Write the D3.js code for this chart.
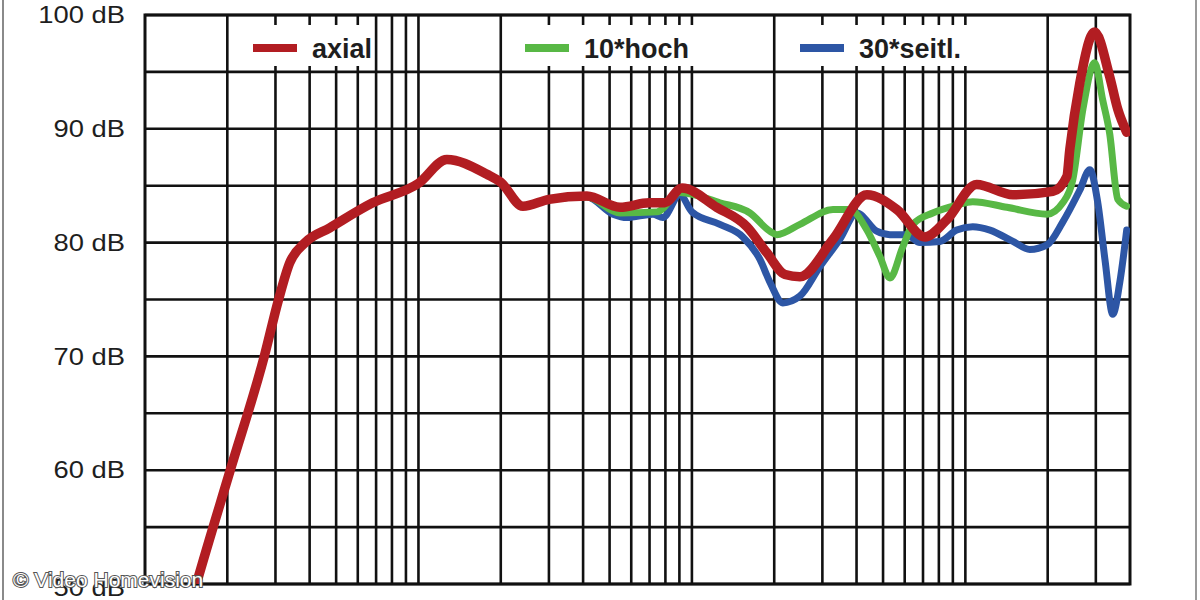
<!DOCTYPE html>
<html><head><meta charset="utf-8">
<script src="https://cdn.jsdelivr.net/npm/d3@7"></script>
<style>html,body{margin:0;padding:0;background:#fff;} svg{display:block}</style>
</head><body><svg id="c" width="1200" height="600"></svg>
<script>
// ---- data ----
const seriesNames = ["axial", "10*hoch", "30*seitl."];
const seriesColors = ["#b21d22", "#58b845", "#2d56a5"];

const axialF  = [15, 15.5, 20.5, 27.3, 30.8, 33.8, 38.5, 47.4, 68, 100, 127, 178, 200, 241, 300, 413, 546, 697, 796, 919, 1233, 1589, 1880, 2190, 2483, 3281, 4365, 5623, 7110, 8550, 11000, 14930, 20900, 23500, 24100, 26200, 29700, 33700, 36100, 38900];
const axialDb = [49, 50.2, 60, 70, 75, 78.2, 80, 81.3, 83.5, 85.2, 87.3, 86, 85.3, 83.2, 83.8, 84.1, 83.1, 83.5, 83.5, 84.8, 83.1, 81.4, 79.1, 77.2, 77, 80.3, 84.2, 82.9, 80.5, 82, 85.1, 84.2, 84.5, 85.8, 88.2, 94, 98.5, 94.6, 91.7, 89.7];

const hochF  = [15, 15.5, 20.5, 27.3, 30.8, 33.8, 38.5, 47.4, 68, 100, 127, 178, 200, 241, 300, 413, 546, 745, 904, 1265, 1630, 1930, 2046, 2483, 3281, 3785, 4365, 4864, 5300, 5900, 6430, 7600, 9300, 10640, 14190, 19900, 22700, 24700, 26900, 29700, 31800, 33700, 36100, 38900];
const hochDb = [49, 50.2, 60, 70, 75, 78.2, 80, 81.3, 83.5, 85.2, 87.3, 86, 85.3, 83.2, 83.8, 84.0, 82.6, 82.7, 84.4, 83.5, 82.6, 81, 80.7, 81.6, 82.9, 82.9, 81.1, 78.8, 76.9, 79.6, 81.6, 82.6, 83.3, 83.6, 83.1, 82.5, 83.5, 85.5, 91.7, 95.8, 92.5, 89.6, 83.8, 83.2];

const seitlF  = [15, 15.5, 20.5, 27.3, 30.8, 33.8, 38.5, 47.4, 68, 100, 127, 178, 200, 241, 300, 413, 514, 578, 720, 783, 904, 1000, 1265, 1535, 1775, 1930, 2150, 2483, 2940, 3475, 4010, 4740, 5300, 6110, 6820, 8070, 9300, 10640, 12300, 14930, 17200, 19900, 22700, 26200, 28500, 30500, 32400, 34600, 36700, 38900];
const seitlDb = [49, 50.2, 60, 70, 75, 78.2, 80, 81.3, 83.5, 85.2, 87.3, 86, 85.3, 83.2, 83.8, 84.0, 82.5, 82.2, 82.5, 82.2, 84.2, 82.7, 81.6, 80.5, 78.5, 76.5, 74.7, 75.3, 77.9, 80.3, 82.6, 81, 80.7, 80.7, 80, 80.1, 81.1, 81.4, 81.1, 80.1, 79.4, 79.8, 81.8, 84.6, 86.4, 83.5, 78.5, 73.7, 76.5, 81.1];

const yTickValues = [100, 90, 80, 70, 60, 50];
const yTickLabels = ["100 dB", "90 dB", "80 dB", "70 dB", "60 dB", "50 dB"];
const hGridValues = [55, 65, 75, 85, 95, 100, 90, 80, 70, 60, 50];
const vGridFreqs = [20, 30, 40, 50, 60, 70, 80, 90, 100, 200, 300, 400, 500, 600, 700, 800, 900, 1000,
                    2000, 3000, 4000, 5000, 6000, 7000, 8000, 9000, 10000, 20000, 30000];
const legendGaps = [[20, 70], [200, 2000], [2000, 20000]];
const watermark = "© Video Homevision";

// ---- chart ----
const svg = d3.select('#c');
const W = 1200, H = 600;
const x = d3.scaleLog().domain([10, 40000]).range([145, 1130]);
const y = d3.scaleLinear().domain([50, 100]).range([584, 15]);
const font = "'Liberation Sans', Arial, Helvetica, sans-serif";

svg.append('rect').attr('width', W).attr('height', H).attr('fill', '#fff');

// outer frame lines
svg.append('line').attr('x1', 3).attr('x2', 3).attr('y1', 0).attr('y2', H)
  .attr('stroke', '#8a8a8a').attr('stroke-width', 2);
svg.append('line').attr('x1', 1196).attr('x2', 1196).attr('y1', 0).attr('y2', H)
  .attr('stroke', '#9a9a9a').attr('stroke-width', 2);

const grid = svg.append('g').attr('stroke', '#111').attr('stroke-width', 2.6);
grid.selectAll('line.h').data(hGridValues).join('line').attr('class', 'h')
  .attr('x1', x(10)).attr('x2', x(40000))
  .attr('y1', d => y(d)).attr('y2', d => y(d));
const inGap = f => legendGaps.some(g => f > g[0] && f < g[1]);
vGridFreqs.forEach(f => {
  if (inGap(f)) {
    grid.append('line').attr('x1', x(f)).attr('x2', x(f)).attr('y1', y(100)).attr('y2', 25);
    grid.append('line').attr('x1', x(f)).attr('x2', x(f)).attr('y1', 66).attr('y2', y(50));
  } else {
    grid.append('line').attr('x1', x(f)).attr('x2', x(f)).attr('y1', y(100)).attr('y2', y(50));
  }
});
svg.append('rect').attr('x', x(10)).attr('y', y(100))
  .attr('width', x(40000) - x(10)).attr('height', y(50) - y(100))
  .attr('fill', 'none').attr('stroke', '#111').attr('stroke-width', 3);

// y labels
yTickValues.forEach((v, i) => {
  svg.append('text')
    .attr('transform', `translate(125,${y(v) + (v === 50 ? 4 : 0)}) scale(1.19,1)`)
    .attr('text-anchor', 'end').attr('dominant-baseline', 'central')
    .attr('font-family', font).attr('font-size', 23).attr('fill', '#1e1e1e')
    .text(yTickLabels[i]);
});

// curves
svg.append('clipPath').attr('id', 'clip').append('rect')
  .attr('x', x(10)).attr('y', 0).attr('width', x(40000) - x(10)).attr('height', y(50));
const seriesData = [
  axialF.map((f, i) => [f, axialDb[i]]),
  hochF.map((f, i) => [f, hochDb[i]]),
  seitlF.map((f, i) => [f, seitlDb[i]])
];
const widths = [9.5, 7, 7];
const line = d3.line().x(d => x(d[0])).y(d => y(d[1])).curve(d3.curveMonotoneX);
const cg = svg.append('g').attr('clip-path', 'url(#clip)');
[2, 1, 0].forEach(i => {
  cg.append('path').datum(seriesData[i]).attr('d', line)
    .attr('fill', 'none').attr('stroke', seriesColors[i]).attr('stroke-width', widths[i])
    .attr('stroke-linejoin', 'round').attr('stroke-linecap', 'round');
});

// legend
const legendX = [253, 525, 800];
seriesNames.forEach((n, i) => {
  svg.append('line').attr('x1', legendX[i]).attr('x2', legendX[i] + 44)
    .attr('y1', 48).attr('y2', 48).attr('stroke', seriesColors[i]).attr('stroke-width', 8);
  svg.append('text').attr('x', legendX[i] + 59).attr('y', 58)
    .attr('font-family', font).attr('font-weight', 'bold').attr('font-size', 27)
    .attr('fill', '#1e1e1e').text(n);
});

// watermark
svg.append('text').attr('x', 13).attr('y', 587)
  .attr('font-family', font).attr('font-size', 21)
  .attr('fill', '#fff').attr('stroke', '#555').attr('stroke-width', 2)
  .attr('paint-order', 'stroke').text(watermark);
</script></body></html>
